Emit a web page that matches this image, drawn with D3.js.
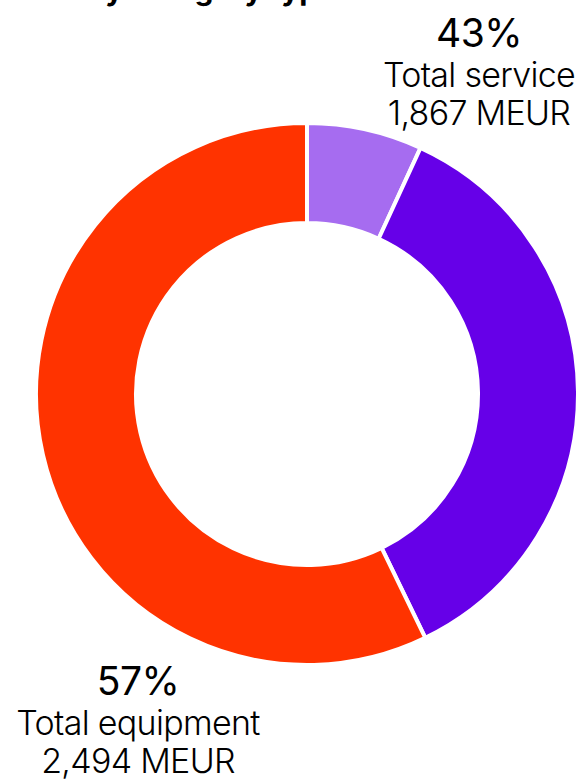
<!DOCTYPE html>
<html>
<head>
<meta charset="utf-8">
<script src="https://cdn.jsdelivr.net/npm/d3@7"></script>
<style>
  body { margin: 0; background: #fff; }
  svg { display: block; font-family: Inter, "Noto Sans", sans-serif; }
</style>
</head>
<body>
<div id="chart-container"></div>
<script>
// slices, clockwise from 12 o'clock (MEUR)
const sliceNames = ["Service (other)", "Service", "Equipment"];
const sliceValues = [300, 1567, 2494];
const sliceColors = ["#a66cf0", "#6600e8", "#ff3300"];

// group labels
const groupPercents = ["43%", "57%"];
const groupNames = ["Total service", "Total equipment"];
const groupTotals = ["1,867 MEUR", "2,494 MEUR"];

const width = 580;
const height = 780;
const cx = 307, cy = 394;
const outerRadius = 271;
const innerRadius = 171;

const svg = d3.select("#chart-container")
    .append("svg")
    .attr("width", width)
    .attr("height", height);

// title, cut by the top edge in the reference
svg.append("text")
    .attr("x", 0)
    .attr("y", 0)
    .style("font-size", "30px")
    .style("font-weight", "700")
    .text("Sales by category type");

const pie = d3.pie().value(d => d).sort(null);
const arc = d3.arc().innerRadius(innerRadius).outerRadius(outerRadius);

const g = svg.append("g")
    .attr("transform", `translate(${cx},${cy})`);

g.selectAll(".arc")
    .data(pie(sliceValues))
    .enter()
    .append("path")
    .attr("class", "arc")
    .attr("d", arc)
    .attr("fill", (d, i) => sliceColors[i])
    .attr("stroke", "#fff")
    .attr("stroke-width", 4)
    .attr("stroke-linejoin", "miter");

// group labels
const labelPos = [{x: 479, y: 47}, {x: 138, y: 695}];

labelPos.forEach((p, i) => {
    const t = svg.append("text")
        .attr("text-anchor", "middle")
        .attr("fill", "#000");
    t.append("tspan")
        .attr("x", p.x)
        .attr("y", p.y)
        .style("font-size", "39px")
        .style("font-weight", "400")
        .style("letter-spacing", "-0.5px")
        .text(groupPercents[i]);
    t.append("tspan")
        .attr("x", p.x)
        .attr("y", p.y + 40)
        .style("font-size", "34px")
        .style("font-weight", "300")
        .style("letter-spacing", "-0.7px")
        .text(groupNames[i]);
    t.append("tspan")
        .attr("x", p.x)
        .attr("y", p.y + 78)
        .style("font-size", "34px")
        .style("font-weight", "300")
        .style("letter-spacing", "-0.7px")
        .text(groupTotals[i]);
});
</script>
</body>
</html>
